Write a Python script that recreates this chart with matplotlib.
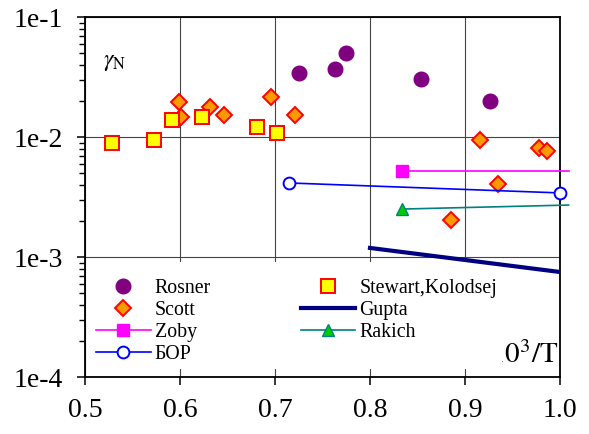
import matplotlib
matplotlib.use("Agg")
import matplotlib.pyplot as plt
from matplotlib.patches import Rectangle
from matplotlib.lines import Line2D
from matplotlib.ticker import FixedLocator, FixedFormatter, LogLocator, NullFormatter

plt.rcParams['font.family'] = 'serif'
plt.rcParams['font.serif'] = ['Liberation Serif', 'Times New Roman', 'DejaVu Serif']
plt.rcParams['mathtext.fontset'] = 'stix'

# Recombination coefficient gamma_N versus 10^3/T
rosner_x = [0.725, 0.763, 0.775, 0.854, 0.926]
rosner_y = [0.0341, 0.0369, 0.0501, 0.0304, 0.0200]

scott_x = [0.599, 0.601, 0.632, 0.646, 0.696, 0.721, 0.885, 0.916, 0.935, 0.978, 0.986]
scott_y = [0.0196, 0.0147, 0.0178, 0.0153, 0.0216, 0.0153, 0.00203, 0.0094, 0.00406, 0.0081, 0.0077]

stewart_x = [0.528, 0.573, 0.592, 0.623, 0.681, 0.702]
stewart_y = [0.0089, 0.0094, 0.0139, 0.0147, 0.0121, 0.0108]

zoby_x = [0.834, 1.009]
zoby_y = [0.00521, 0.00521]

bor_x = [0.715, 1.0]
bor_y = [0.00414, 0.00342]

rakich_x = [0.834, 1.009]
rakich_y = [0.00251, 0.00271]

gupta_x = [0.8, 1.0]
gupta_y = [0.00119, 0.00075]

x_ticks = [0.5, 0.6, 0.7, 0.8, 0.9, 1.0]
x_tick_labels = ['0.5', '0.6', '0.7', '0.8', '0.9', '1.0']
y_ticks = [1e-4, 1e-3, 1e-2, 1e-1]
y_tick_labels = ['1e-4', '1e-3', '1e-2', '1e-1']

fig = plt.figure(figsize=(5.89, 4.34), dpi=100)
ax = fig.add_axes([0.1443, 0.1313, 0.8065, 0.8295])
ax.set_yscale('log')
ax.set_xlim(0.5, 1.0)
ax.set_ylim(1e-4, 1e-1)

ax.grid(True, which='major', color='#444444', linewidth=0.8)
ax.set_axisbelow(True)

# white panel behind the legend
ax.add_patch(Rectangle((0.004, 0.022), 0.874, 0.297, transform=ax.transAxes,
                       facecolor='white', edgecolor='none', zorder=2.2))

ax.text(0.996, 0.039, r'$\mathrm{10^3/T}$', transform=ax.transAxes,
        ha='right', va='baseline', fontsize=21, zorder=2.1)
ax.text(0.038, 0.875, r'$\gamma_{\mathrm{N}}$', transform=ax.transAxes,
        ha='left', va='center', fontsize=17, zorder=5)

rosner_style = dict(marker='o', color='#800080', ms=10.5, mec='#800080', ls='none')
scott_style = dict(marker='D', mfc='#FF9900', mec='red', mew=1.4, ms=8, ls='none')
stewart_style = dict(marker='s', mfc='#FFFF00', mec='red', mew=1.4, ms=9.5, ls='none')
zoby_line = dict(color='#FF00FF', lw=1.2)
zoby_mark = dict(marker='s', mfc='#FF00FF', mec='#FF00FF', ms=8)
bor_line = dict(color='#0000FF', lw=1.2)
bor_mark = dict(marker='o', mfc='white', mec='#0000FF', mew=1.4, ms=8.5)
rak_line = dict(color='#008080', lw=1.2)
rak_mark = dict(marker='^', mfc='#00CC00', mec='#008080', ms=8)
gupta_line = dict(color='#000080', lw=3)

ax.plot(rosner_x, rosner_y, zorder=4, **rosner_style)
ax.plot(scott_x, scott_y, zorder=4, **scott_style)
ax.plot(stewart_x, stewart_y, zorder=4, **stewart_style)

ax.plot(zoby_x, zoby_y, '-', zorder=4, clip_on=False, **zoby_line)
ax.plot(zoby_x[:1], zoby_y[:1], ls='none', zorder=4, **zoby_mark)
ax.plot(bor_x, bor_y, '-', zorder=4, clip_on=False, **bor_line)
ax.plot(bor_x, bor_y, ls='none', zorder=4, clip_on=False, **bor_mark)
ax.plot(rakich_x, rakich_y, '-', zorder=4, clip_on=False, **rak_line)
ax.plot(rakich_x[:1], rakich_y[:1], ls='none', zorder=4, **rak_mark)
ax.plot(gupta_x, gupta_y, '-', zorder=4, **gupta_line)

handles = [
    Line2D([], [], **rosner_style),
    Line2D([], [], **scott_style),
    Line2D([], [], ls='-', **zoby_line, **zoby_mark),
    Line2D([], [], ls='-', **bor_line, **bor_mark),
    Line2D([], [], **stewart_style),
    Line2D([], [], ls='-', **gupta_line),
    Line2D([], [], ls='-', **rak_line, **rak_mark),
]
labels = ['Rosner', 'Scott', 'Zoby', 'БОР', 'Stewart,Kolodsej', 'Gupta', 'Rakich']

leg = ax.legend(handles, labels, ncol=2, loc='upper left',
                bbox_to_anchor=(0.023, 0.272), frameon=False, fontsize=14.3,
                borderaxespad=0, borderpad=0, handlelength=2.75,
                handletextpad=0.22, columnspacing=4.5, labelspacing=0.15,
                numpoints=1)
leg.set_zorder(3)

ax.xaxis.set_major_locator(FixedLocator(x_ticks))
ax.xaxis.set_major_formatter(FixedFormatter(x_tick_labels))
ax.yaxis.set_major_locator(FixedLocator(y_ticks))
ax.yaxis.set_major_formatter(FixedFormatter(y_tick_labels))
ax.yaxis.set_minor_locator(LogLocator(base=10, subs=range(2, 10)))
ax.yaxis.set_minor_formatter(NullFormatter())

ax.tick_params(axis='x', which='major', direction='out', length=6, width=1.1,
               labelsize=20, pad=9)
ax.tick_params(axis='y', which='major', direction='out', length=6, width=1.1,
               labelsize=20, pad=10)
ax.tick_params(axis='y', which='minor', direction='out', length=4.5, width=1.0)

for s in ax.spines.values():
    s.set_linewidth(1.3)
    s.set_color('black')

fig.savefig('out.png', dpi=100)
